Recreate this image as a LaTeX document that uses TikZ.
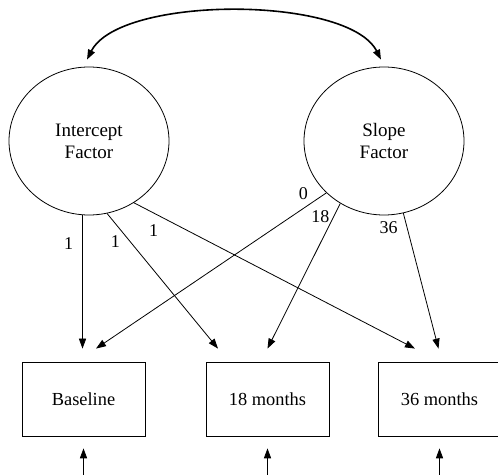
\documentclass[tikz,border=0pt]{standalone}
\usepackage{fontspec}
\setmainfont{Liberation Serif}
\usetikzlibrary{shapes,arrows,positioning,arrows.meta}

\begin{document}
\begin{tikzpicture}[x=0.5pt,y=-0.5pt,
    >={Triangle[length=5pt,width=3.6pt]},
    factor/.style={draw,ellipse,minimum width=80pt,minimum height=74pt,inner sep=0pt,align=center,font=\fontsize{9.5}{11}\selectfont},
    obs/.style={draw,rectangle,minimum width=61.5pt,minimum height=37pt,font=\fontsize{9.2}{11}\selectfont},
    load/.style={inner sep=2pt,font=\fontsize{9}{10}\selectfont}]
    \useasboundingbox (0,0) rectangle (498,475);

    % Latent factors
    \node[factor] (icpt) at (89,141) {Intercept\\Factor};
    \node[factor] (slope) at (384,141) {Slope\\Factor};

    % Measured occasions
    \node[obs] (base) at (83.5,399) {Baseline};
    \node[obs] (m18) at (267.5,399) {18 months};
    \node[obs] (m36) at (439.5,399) {36 months};

    % Factor covariance
    \draw[<->,line width=0.8pt] ([xshift=-1pt,yshift=3.5pt]icpt.north) to[out=63,in=117,looseness=0.63] ([xshift=-1.5pt,yshift=3.5pt]slope.north);

    % Intercept loadings
    \draw[->] (icpt.265) -- node[load,pos=.21,left=2.5pt] {1} ([yshift=6.5pt]icpt.265 |- base.north);
    \draw[->] (icpt.284) -- node[load,pos=.21,left=3pt] {1} ([xshift=-24.75pt,yshift=6.5pt]m18.north);
    \draw[->] (icpt.306) -- node[load,pos=.07,below=3.5pt] {1} ([xshift=-12.25pt,yshift=6.5pt]m36.north);

    % Slope loadings
    \draw[->] (slope.222) -- node[load,pos=.1,above=2.4pt] {0} ([xshift=6.25pt,yshift=6.5pt]base.north);
    \draw[->] (slope.235) -- node[load,pos=.09,left=0pt] {18} ([yshift=6.5pt]m18.north);
    \draw[->] (slope.285) -- node[load,pos=.11,left=2.6pt] {36} ([xshift=-0.5pt,yshift=6.5pt]m36.north);

    % Residuals
    \coordinate[below=20pt of base] (e1);
    \coordinate[below=20pt of m18] (e2);
    \coordinate[below=20pt of m36] (e3);
    \draw[->] (e1) -- ([yshift=-6pt]base.south);
    \draw[->] (e2) -- ([yshift=-6pt]m18.south);
    \draw[->] (e3) -- ([yshift=-6pt]m36.south);
\end{tikzpicture}
\end{document}
